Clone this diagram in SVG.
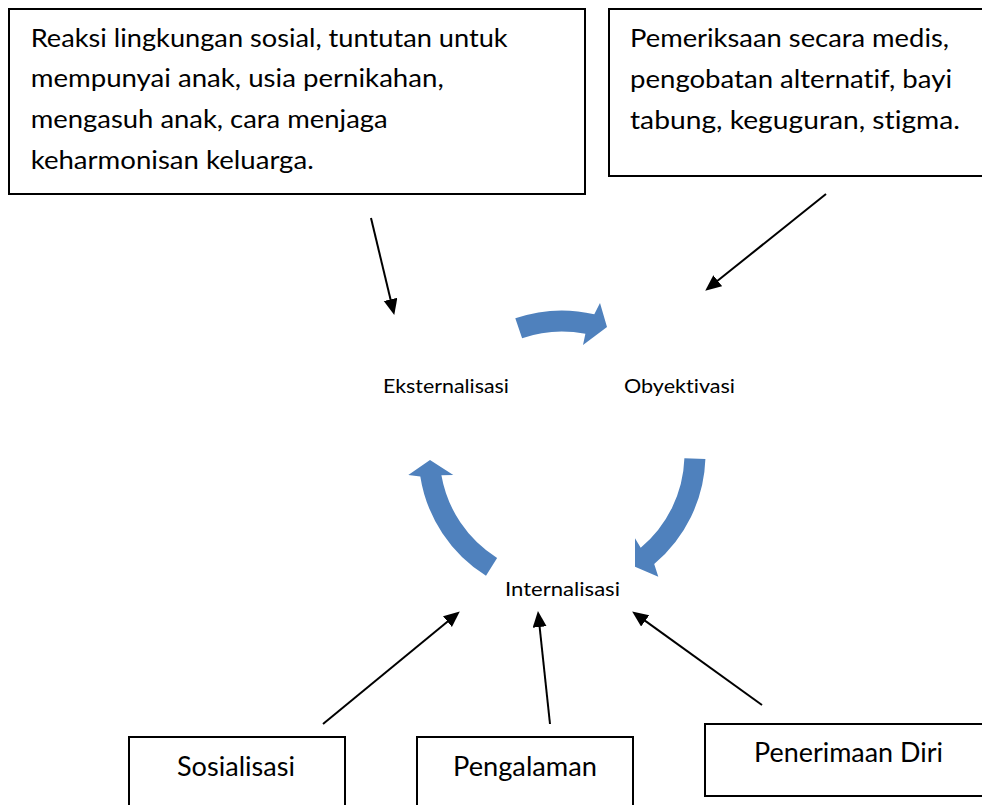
<svg xmlns="http://www.w3.org/2000/svg" width="982" height="805" viewBox="0 0 982 805">
<style>
.box{fill:#fff;stroke:#000;stroke-width:2}
.t{font-family:Lato,"Liberation Sans",sans-serif;fill:#000;font-variant-ligatures:none;font-feature-settings:"liga" 0,"clig" 0}
.main{font-size:25px}
.lbl{font-size:19.5px}
.big{font-size:27px}
.cyc{fill:#4F81BD;stroke:none}
.con{stroke:#000;stroke-width:2;fill:none;marker-end:url(#ah)}
</style>
<defs>
<marker id="ah" markerUnits="userSpaceOnUse" markerWidth="17" markerHeight="15" refX="5" refY="7" orient="auto" viewBox="0 0 17 15">
<path d="M0,0 L16,7 L0,14 Z" fill="#000"/>
</marker>
</defs>
<rect width="982" height="805" fill="#fff"/>
<g id="box-eksternal-factors">
<rect class="box" x="9" y="9" width="576" height="185"/>
<text class="t main" x="30.7" y="46.7" textLength="477" lengthAdjust="spacingAndGlyphs">Reaksi lingkungan sosial, tuntutan untuk</text>
<text class="t main" x="30.7" y="87.3" textLength="413" lengthAdjust="spacingAndGlyphs">mempunyai anak, usia pernikahan,</text>
<text class="t main" x="30.7" y="128" textLength="357" lengthAdjust="spacingAndGlyphs">mengasuh anak, cara menjaga</text>
<text class="t main" x="30.7" y="168.7" textLength="283" lengthAdjust="spacingAndGlyphs">keharmonisan keluarga.</text>
</g>
<g id="box-obyektivasi-factors">
<rect class="box" x="609" y="9" width="385" height="167"/>
<text class="t main" x="630" y="47" textLength="319" lengthAdjust="spacingAndGlyphs">Pemeriksaan secara medis,</text>
<text class="t main" x="630" y="88" textLength="322" lengthAdjust="spacingAndGlyphs">pengobatan alternatif, bayi</text>
<text class="t main" x="630" y="129" textLength="330" lengthAdjust="spacingAndGlyphs">tabung, keguguran, stigma.</text>
</g>
<g id="node-eksternalisasi">
<text class="t lbl" x="383" y="393" textLength="126" lengthAdjust="spacingAndGlyphs">Eksternalisasi</text>
</g>
<g id="node-obyektivasi">
<text class="t lbl" x="624" y="393" textLength="111" lengthAdjust="spacingAndGlyphs">Obyektivasi</text>
</g>
<g id="node-internalisasi">
<text class="t lbl" x="505" y="596" textLength="115" lengthAdjust="spacingAndGlyphs">Internalisasi</text>
</g>
<g id="box-sosialisasi">
<rect class="box" x="129" y="737" width="216" height="90"/>
<text class="t big" x="177" y="776" textLength="118" lengthAdjust="spacingAndGlyphs">Sosialisasi</text>
</g>
<g id="box-pengalaman">
<rect class="box" x="417" y="737" width="216" height="90"/>
<text class="t big" x="453" y="776" textLength="144" lengthAdjust="spacingAndGlyphs">Pengalaman</text>
</g>
<g id="box-penerimaan">
<rect class="box" x="705" y="724" width="290" height="72"/>
<text class="t big" x="754" y="762" textLength="189" lengthAdjust="spacingAndGlyphs">Penerimaan Diri</text>
</g>
<g id="cycle-arrows">
<path class="cyc" d="M515.3,318.3 A143.5,143.5 0 0 1 594.3,314.2 L600,303 L607,327 L583,345 L585.4,333.8 A122.5,122.5 0 0 0 522.1,338.2 Z"/>
<path class="cyc" d="M705.4,459 A143.5,143.5 0 0 1 654.2,563.9 L658.3,576.7 L635,566.7 L635,538.3 L640.7,547.8 A122.5,122.5 0 0 0 684.4,458.3 Z"/>
<path class="cyc" d="M486,575.7 A143.5,143.5 0 0 1 420.3,476.4 L408.3,475 L430,460 L453.3,475 L441.4,475.3 A122.5,122.5 0 0 0 497.1,557.9 Z"/>
</g>
<g id="connectors">
<line class="con" x1="371" y1="218" x2="391.7" y2="304.3"/>
<line class="con" x1="826" y1="194" x2="713.8" y2="283.8"/>
<line class="con" x1="323" y1="724" x2="451.3" y2="618.4"/>
<line class="con" x1="550" y1="724" x2="539.1" y2="622"/>
<line class="con" x1="762" y1="705" x2="641.1" y2="617.9"/>
</g>
</svg>
